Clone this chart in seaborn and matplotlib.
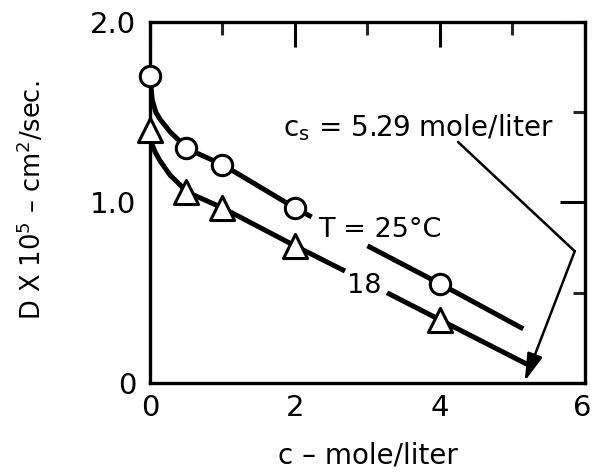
import numpy as np
import pandas as pd
import matplotlib
matplotlib.use("Agg")
import matplotlib.pyplot as plt
import matplotlib.transforms as mtransforms
import seaborn as sns
from matplotlib.ticker import MultipleLocator

# ---- data ----
c_points = [0.0, 0.5, 1.0, 2.0, 4.0]
d_25C = [1.70, 1.30, 1.21, 0.97, 0.55]
d_18C = [1.40, 1.06, 0.97, 0.76, 0.35]

# hand-drawn curves (two pieces each, broken at labels)
curve25_a_x = [0.0, 0.03, 0.08, 0.14, 0.28, 0.41, 0.5, 1.0, 2.0, 2.23]
curve25_a_y = [1.70, 1.57, 1.50, 1.46, 1.39, 1.34, 1.30, 1.21, 0.97, 0.92]
curve25_b_x = [3.0, 4.0, 5.15]
curve25_b_y = [0.76, 0.55, 0.30]

curve18_a_x = [0.0, 0.02, 0.07, 0.14, 0.28, 0.41, 0.5, 1.0, 2.0, 2.69]
curve18_a_y = [1.40, 1.33, 1.28, 1.23, 1.15, 1.10, 1.06, 0.97, 0.76, 0.62]
curve18_b_x = [3.27, 4.0, 5.22]
curve18_b_y = [0.50, 0.35, 0.10]

# annotation leader for c_s
leader_x = [4.25, 5.86]
leader_y = [1.335, 0.73]
arrow_tip = (5.17, 0.01)

x_ticks = [0, 2, 4, 6]
x_tick_labels = ["0", "2", "4", "6"]
y_ticks = [0, 1.0, 2.0]
y_tick_labels = ["0", "1.0", "2.0"]

sns.set_theme(style="white")
plt.rcParams["font.family"] = ["DejaVu Sans"]

fig = plt.figure(figsize=(5.92, 4.74), dpi=100)
ax = fig.add_axes([0.2534, 0.192, 0.7346, 0.7616])

lw = 3.6
for xs, ys in [(curve25_a_x, curve25_a_y), (curve25_b_x, curve25_b_y),
               (curve18_a_x, curve18_a_y), (curve18_b_x, curve18_b_y)]:
    sns.lineplot(x=xs, y=ys, ax=ax, color="black", linewidth=lw,
                 sort=False, estimator=None, solid_capstyle="butt", zorder=2)

sns.scatterplot(x=c_points, y=d_25C, ax=ax, marker="o", s=215,
                facecolor="white", edgecolor="black", linewidth=2.2, zorder=4,
                clip_on=False)
sns.scatterplot(x=c_points, y=d_18C, ax=ax, marker="^", s=300,
                facecolor="white", edgecolor="black", linewidth=2.2, zorder=4,
                clip_on=False)

# annotation
ax.plot(leader_x, leader_y, color="black", linewidth=1.8, zorder=3)
ax.annotate("", xy=arrow_tip, xytext=(leader_x[1], leader_y[1]),
            arrowprops=dict(arrowstyle="-|>,head_length=0.7,head_width=0.2",
                            color="black", lw=1.8,
                            mutation_scale=24, shrinkA=0, shrinkB=0),
            zorder=3)
ax.text(1.83, 1.37, r"c$_{\mathregular{s}}$ = 5.29 mole/liter", fontsize=20,
        ha="left", va="baseline", color="black")
ax.text(2.32, 0.85, "T = 25°C", fontsize=19.5, ha="left", va="center", color="black")
ax.text(2.96, 0.54, "18", fontsize=19.5, ha="center", va="center", color="black")

ax.set_xlim(0, 6)
ax.set_ylim(0, 2.0)
ax.set_xticks(x_ticks)
ax.set_xticklabels(x_tick_labels)
ax.set_yticks(y_ticks)
ax.set_yticklabels(y_tick_labels)
ax.xaxis.set_minor_locator(MultipleLocator(1))
ax.yaxis.set_minor_locator(MultipleLocator(0.5))
ax.tick_params(which="major", direction="in", length=18, width=2.2,
               top=True, right=True, labelsize=21, colors="black")
ax.tick_params(which="minor", direction="in", length=9, width=2.2,
               top=True, right=True)
ax.tick_params(axis="y", which="major", pad=10)
ax.tick_params(axis="x", which="major", pad=8)

# keep the last x tick label ("6") inside the figure edge
last_lab = ax.get_xticklabels()[-1]
last_lab.set_horizontalalignment("right")
last_lab.set_transform(last_lab.get_transform() +
                       mtransforms.ScaledTranslation(7 / 100, 0, fig.dpi_scale_trans))

for sp in ax.spines.values():
    sp.set_linewidth(2.4)
    sp.set_color("black")

fig.text(367.5 / 592, 1 - 455 / 474, "c – mole/liter", fontsize=20,
         ha="center", va="center", color="black")
fig.text(32 / 592, 1 - 200 / 474,
         r"D X 10$^{\mathregular{5}}$ – cm$^{\mathregular{2}}$/sec.",
         fontsize=18.5, rotation=90, ha="center", va="center", color="black")

fig.savefig("out.png", dpi=100, facecolor="white")
